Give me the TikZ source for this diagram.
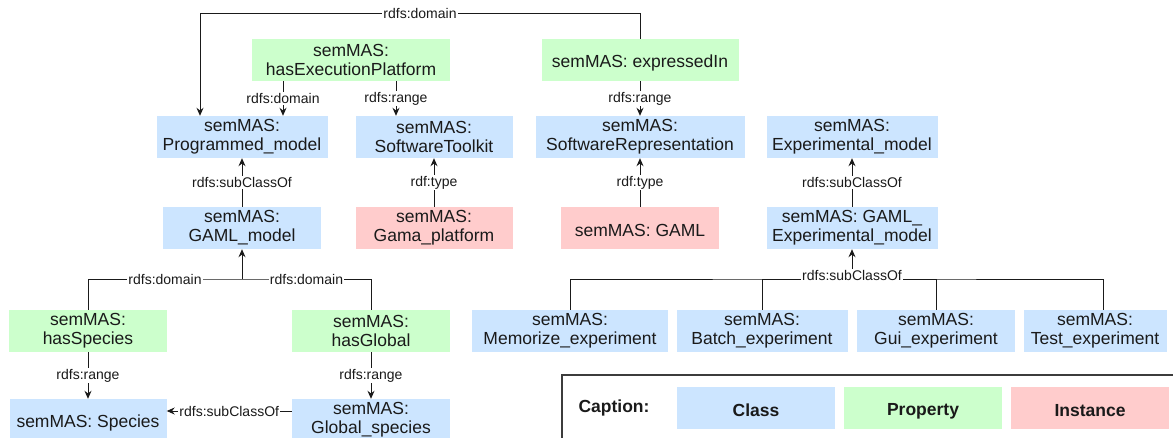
\documentclass[tikz,border=0pt]{standalone}
\usepackage{fontspec}
\setmainfont{Liberation Sans}
\usetikzlibrary{arrows.meta}
\definecolor{clsblue}{RGB}{204,229,255}
\definecolor{propgreen}{RGB}{204,255,204}
\definecolor{instred}{RGB}{255,204,204}
\definecolor{ink}{RGB}{26,26,26}

\begin{document}
\begin{tikzpicture}[x=1pt,y=-1pt,
  box/.style={minimum height=42pt,inner sep=0pt,align=center,font=\fontsize{17.5}{19}\selectfont,text=ink,
    execute at begin node={\rule{0pt}{18pt}}},
  cls/.style={box,fill=clsblue},
  prop/.style={box,fill=propgreen},
  inst/.style={box,fill=instred},
  lbl/.style={fill=white,inner sep=1pt,font=\fontsize{14}{15}\selectfont,text=ink},
  link/.style={draw=ink,line width=1pt},
  arr/.style={link,-{Stealth[length=8pt,width=7pt]}}]
  % page = 1173 x 437 px, y runs downwards
  \path[use as bounding box,clip] (0,0) rectangle (1173,437);
  % properties and classes, top rows
  \node[prop,minimum width=198pt] (hexec) at (351,60) {semMAS:\\hasExecutionPlatform};
  \node[prop,minimum width=197pt] (expin) at (640,60) {semMAS: expressedIn};
  \node[cls,minimum width=171pt] (prog) at (242,137) {semMAS:\\Programmed\_model};
  \node[cls,minimum width=157pt] (tool) at (434,137) {semMAS:\\SoftwareToolkit};
  \node[cls,minimum width=209pt] (srep) at (640,137) {semMAS:\\SoftwareRepresentation};
  \node[cls,minimum width=171pt] (expm) at (852,137) {semMAS:\\Experimental\_model};
  \node[cls,minimum width=158pt] (gaml) at (242,228) {semMAS:\\GAML\_model};
  \node[inst,minimum width=157pt] (gama) at (434,228) {semMAS:\\Gama\_platform};
  \node[inst,minimum width=158pt] (gamlkw) at (640,228) {semMAS: GAML};
  \node[cls,minimum width=171pt] (gexp) at (852,228) {semMAS: GAML\_\\Experimental\_model};
  % lower rows
  \node[prop,minimum width=158pt] (hspec) at (88,331) {semMAS:\\hasSpecies};
  \node[prop,minimum width=158pt] (hglob) at (371,331) {semMAS:\\hasGlobal};
  \node[cls,minimum width=157pt] (spec) at (88,420) {semMAS: Species};
  \node[cls,minimum width=158pt] (gspec) at (371,420) {semMAS:\\Global\_species};
  \foreach \n/\x/\w/\t in {memo/570/196/Memorize,batch/762/171/Batch,gui/936/158/Gui,test/1095/143/Test}
    \node[cls,minimum width=\w pt] (\n) at (\x,331) {semMAS:\\\t\_experiment};

  % connectors
  \draw[arr] (expin.north) -- ++(0,-25) -| ([xshift=-42pt]prog.north) node[lbl,pos=0.25] {rdfs:domain};
  \coordinate (hd) at ([xshift=-68pt]hexec.south);
  \coordinate (hr) at ([xshift=45pt]hexec.south);
  \draw[arr] (hd) -- (hd |- prog.north) node[lbl,midway] {rdfs:domain};
  \draw[arr] (hr) -- (hr |- tool.north) node[lbl,midway] {rdfs:range};
  \draw[arr] (expin) -- (srep) node[lbl,midway] {rdfs:range};
  \draw[arr] (gaml) -- (prog) node[lbl,midway] {rdfs:subClassOf};
  \draw[arr] (gama) -- (tool) node[lbl,midway] {rdf:type};
  \draw[arr] (gamlkw) -- (srep) node[lbl,midway] {rdf:type};
  \draw[arr] (gexp) -- (expm) node[lbl,midway] {rdfs:subClassOf};

  \coordinate (lbus) at (242,279);
  \draw[link] (hspec.north) |- (lbus) node[lbl,pos=0.75] {rdfs:domain} -| (hglob.north) node[lbl,pos=0.25] {rdfs:domain};
  \draw[arr] (lbus) -- (gaml.south);
  \draw[arr] (hspec) -- (spec) node[lbl,midway] {rdfs:range};
  \draw[arr] (hglob) -- (gspec) node[lbl,midway] {rdfs:range};
  \coordinate (gs) at ([yshift=9pt]gspec.west);
  \draw[arr] (gs) -- (gs -| spec.east) node[lbl,midway] {rdfs:subClassOf};

  \coordinate (rbus) at (852,279);
  \coordinate (td) at ([xshift=8pt]test.north);
  \draw[link] (memo.north) |- (rbus) -| (td);
  \foreach \n in {batch,gui} \draw[link] (\n.north) |- (rbus);
  \draw[arr] (rbus) -- (gexp.south);
  \node[lbl] (rsub) at (852,275) {rdfs:subClassOf};

  % caption
  \draw[line width=2.5pt,draw=ink!85] (562,375) rectangle (1200,480);
  \node[font=\fontsize{17.5}{19}\selectfont\bfseries,text=ink] (capt) at (614,408) {Caption:};
  \foreach \n/\x/\s/\t in {kcls/756/cls/Class,kprop/923/prop/Property,kinst/1090/inst/Instance}
    \node[\s,minimum width=158pt,font=\fontsize{17.5}{19}\selectfont\bfseries] (\n) at (\x,408) {\t};
\end{tikzpicture}
\end{document}
